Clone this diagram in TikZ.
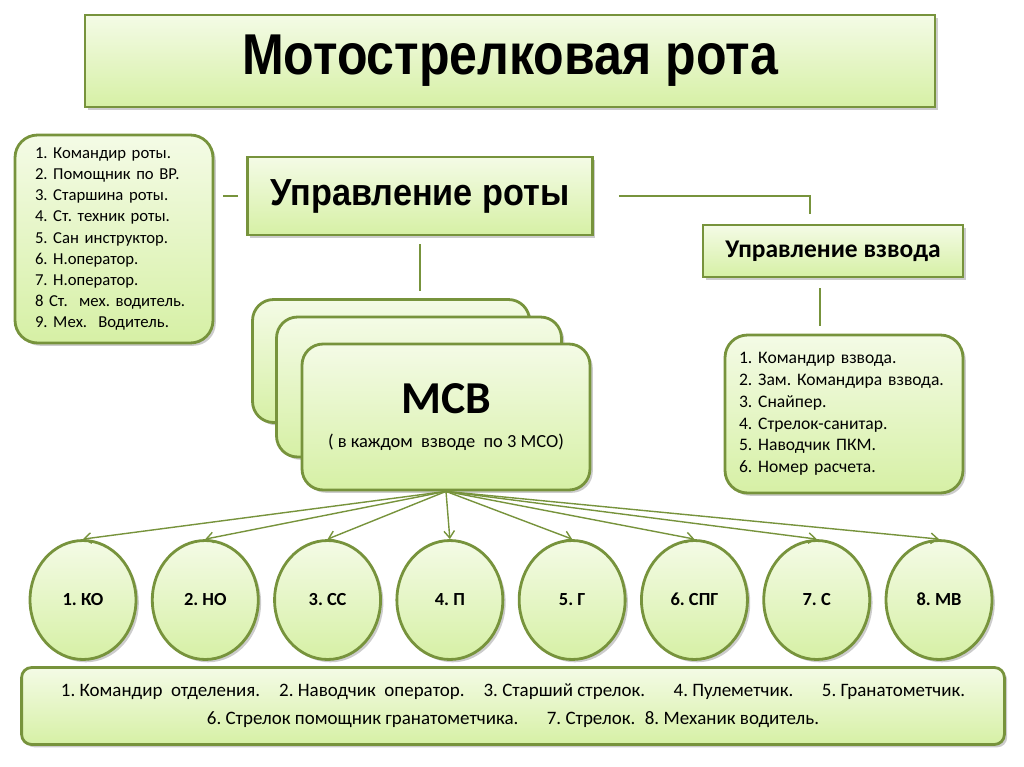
\documentclass[tikz,border=0pt]{standalone}
\usepackage{fontspec}
\setmainfont{Carlito}
\newfontfamily\arialfont{Liberation Sans}
\usepackage{graphicx}
\usepackage{tikz}
\usetikzlibrary{shapes.geometric, arrows.meta, positioning, calc, shadows}
\frenchspacing
\definecolor{myolive}{RGB}{119,147,60}
\definecolor{hdrtop}{RGB}{244,251,230}
\definecolor{hdrbot}{RGB}{214,240,165}
\definecolor{shadowgray}{RGB}{110,110,110}
\tikzset{
  box/.style={rectangle, draw=myolive, top color=hdrtop, bottom color=hdrbot,
    line width=1.6pt, align=center, inner sep=0pt,
    drop shadow={shadow xshift=1.6pt, shadow yshift=-1.6pt, opacity=0.35, fill=shadowgray}},
  listbox/.style={box, rounded corners=0.45cm, align=left,
    font=\fontsize{9.5}{12}\selectfont},
  stackbox/.style={box, rounded corners=0.42cm},
  squad/.style={ellipse, draw=myolive, top color=hdrtop, bottom color=hdrbot,
    line width=1.6pt, minimum width=2.12cm, minimum height=2.38cm, inner sep=0pt,
    text height=1.6ex, text depth=0.2ex,
    font=\bfseries\fontsize{10.5}{12}\selectfont,
    drop shadow={shadow xshift=1.6pt, shadow yshift=-1.6pt, opacity=0.35, fill=shadowgray}},
  link/.style={myolive, line width=0.8pt},
  arrow/.style={-{Straight Barb[length=4pt,width=6pt]}, myolive, line width=0.8pt}
}

\begin{document}
\begin{tikzpicture}[x=0.02cm, y=-0.02cm]
  \useasboundingbox (0,0) rectangle (1024,767);

  % Nodes
  \node[box, minimum width=17cm, minimum height=1.84cm,
    font=\arialfont\bfseries\fontsize{28.5}{32}\selectfont] (company) at (510,61)
    {\scalebox{1}[1.15]{Мотострелковая рота}};
  \node[box, minimum width=6.9cm, minimum height=1.56cm,
    font=\arialfont\bfseries\fontsize{19.5}{22}\selectfont] (ctrl) at (420,196)
    {\scalebox{1}[1.1]{Управление роты}};
  \node[box, minimum width=5.2cm, minimum height=1.04cm,
    font=\bfseries\fontsize{14.5}{17}\selectfont] (plt) at (833,251) {Управление взвода};
  \node[listbox, text width=3.16cm, inner xsep=0.4cm, minimum height=4.16cm] (staff) at (114,239)
    {1. Командир роты.\\2. Помощник по ВР.\\3. Старшина роты.\\4. Ст. техник роты.\\5. Сан инструктор.\\6. Н.оператор.\\7. Н.оператор.\\8 Ст.~~мех. водитель.\\9. Мех.~~Водитель.};
  \node[listbox, text width=4.2cm, inner xsep=0.28cm, minimum height=3.16cm,
    font=\fontsize{10}{12.4}\selectfont] (pltlist) at (844,414)
    {1. Командир взвода.\\2. Зам. Командира взвода.\\3. Снайпер.\\4. Стрелок-санитар.\\5. Наводчик ПКМ.\\6. Номер расчета.};

  % MSV stack
  \node[stackbox, minimum width=5.54cm, minimum height=2.46cm] (msvC) at (391,361) {};
  \node[stackbox, minimum width=5.7cm, minimum height=2.8cm] (msvB) at (419,387) {};
  \node[stackbox, minimum width=5.76cm, minimum height=2.92cm] (msv) at (446,417)
    {{\bfseries\fontsize{26}{30}\selectfont МСВ}\\[7pt]{\fontsize{10.5}{13}\selectfont (~в каждом~~взводе~~по 3 МСО)}};

  % Squads
  \node[squad] (e1) at (83,600) {1. КО};
  \node[squad, right=0.27cm of e1] (e2) {2. НО};
  \node[squad, right=0.27cm of e2] (e3) {3. СС};
  \node[squad, right=0.27cm of e3] (e4) {4. П};
  \node[squad, right=0.27cm of e4] (e5) {5. Г};
  \node[squad, right=0.27cm of e5] (e6) {6. СПГ};
  \node[squad, right=0.27cm of e6] (e7) {7. С};
  \node[squad, right=0.27cm of e7] (e8) {8. МВ};

  \node[box, rounded corners=0.2cm, minimum width=19.66cm, minimum height=1.54cm,
    font=\fontsize{10.8}{16}\selectfont] (legend) at (513,706)
    {1. Командир~~отделения.\quad 2. Наводчик~~оператор.\quad 3. Старший стрелок.\quad\enskip 4. Пулеметчик.\quad\enskip 5. Гранатометчик.\\
     6. Стрелок помощник гранатометчика.\quad\enskip 7. Стрелок.\enskip 8. Механик водитель.};

  % Lines
  \draw[link, shorten <=0.16cm, shorten >=0.18cm] (ctrl.west) -- (ctrl.west -| staff.east);
  \draw[link, shorten <=0.5cm, shorten >=0.2cm] (ctrl.east) -| ($(plt.north)+(-23,0)$);
  \draw[link, shorten <=0.2cm, shorten >=0.16cm] ($(plt.south)+(-13,0)$) -- ($(plt.south |- pltlist.north)+(-13,0)$);
  \draw[link, shorten <=0.16cm, shorten >=0.14cm] (ctrl.south) -- (ctrl.south |- msvC.north);

  % Arrows
  \draw[arrow] (msv.south) -- (e1.north);
  \draw[arrow] (msv.south) -- (e2.north);
  \draw[arrow] (msv.south) -- (e3.north);
  \draw[arrow] (msv.south) -- (e4.north);
  \draw[arrow] (msv.south) -- (e5.north);
  \draw[arrow] (msv.south) -- (e6.north);
  \draw[arrow] (msv.south) -- (e7.north);
  \draw[arrow] (msv.south) -- (e8.north);
\end{tikzpicture}
\end{document}
